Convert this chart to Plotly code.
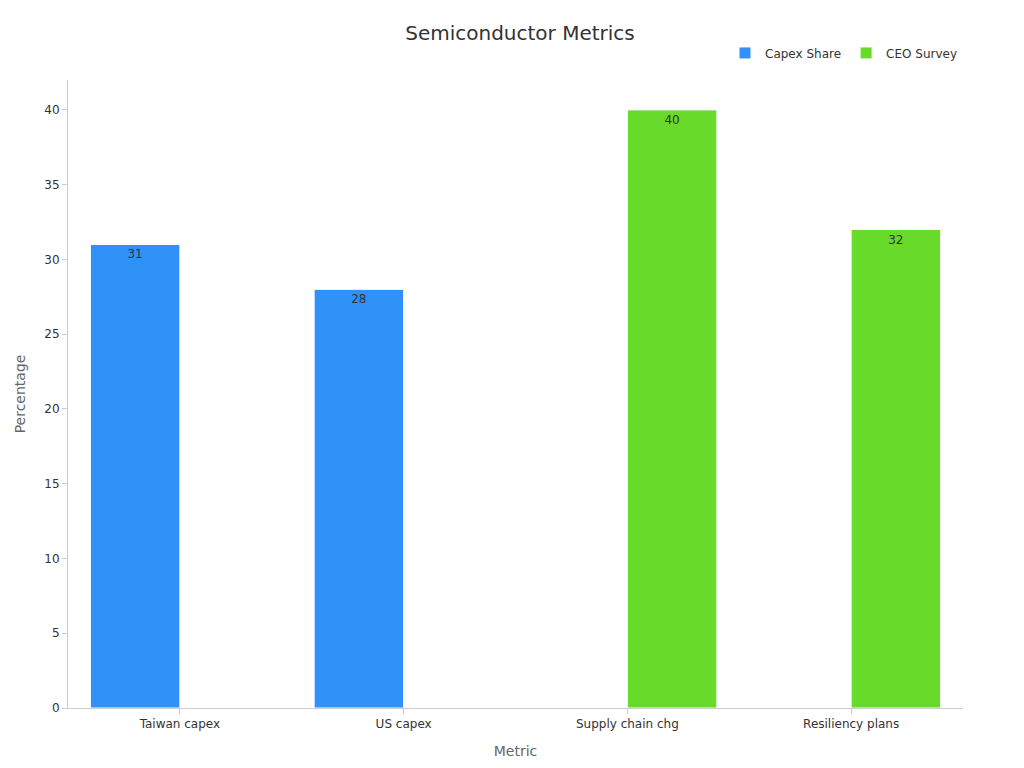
import plotly.graph_objects as go

categories = ["Taiwan capex", "US capex", "Supply chain chg", "Resiliency plans"]
capex_share = [31, 28, None, None]
ceo_survey = [None, None, 40, 32]

fig = go.Figure()
fig.add_trace(go.Bar(
    x=categories, y=capex_share, name="Capex Share",
    marker=dict(color="#3092F8", line=dict(color="white", width=1)),
    text=capex_share, textposition="inside", insidetextanchor="end",
    textfont=dict(color="#333", size=12),
))
fig.add_trace(go.Bar(
    x=categories, y=ceo_survey, name="CEO Survey",
    marker=dict(color="#67DA2A", line=dict(color="white", width=1)),
    text=ceo_survey, textposition="inside", insidetextanchor="end",
    textfont=dict(color="#333", size=12),
))

fig.update_layout(
    width=1024, height=768,
    template="plotly_white",
    font=dict(family="DejaVu Sans", color="#333", size=12),
    title=dict(text="Semiconductor Metrics", x=0.5, y=0.968, xanchor="center",
               yanchor="middle", font=dict(size=20, color="#333")),
    barmode="group", bargap=0.2, bargroupgap=0,
    margin=dict(l=52, r=69, t=72, b=68),
    legend=dict(orientation="h", x=1, xanchor="right", y=1.02, yanchor="bottom",
                font=dict(size=12)),
    xaxis=dict(title=dict(text="Metric", font=dict(color="#666", size=14)),
               showgrid=False, showline=True, linecolor="#ccc",
               ticks="outside", tickcolor="#ccc"),
    yaxis=dict(title=dict(text="Percentage", font=dict(color="#666", size=14)),
               range=[0, 42], dtick=5, showgrid=False, zeroline=False,
               showline=True, linecolor="#ccc", ticks="outside", tickcolor="#ccc"),
)
fig.write_html("out.html")
